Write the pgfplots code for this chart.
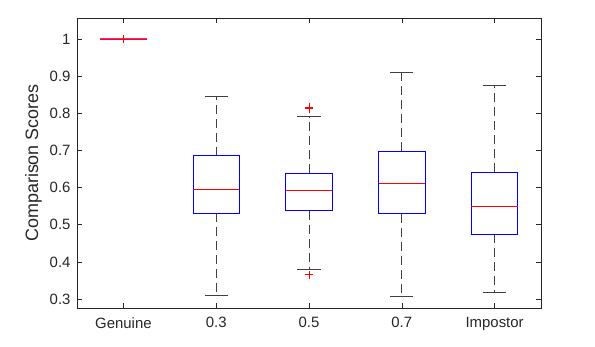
\documentclass[border=0pt]{standalone}
\usepackage{pgfplots}
\pgfplotsset{compat=1.18}
\usepgfplotslibrary{statistics}
\usepackage{fontspec}
\setmainfont{Liberation Sans}
\definecolor{axgray}{RGB}{38,38,38}
\definecolor{whisk}{RGB}{0,0,0}
\definecolor{mblue}{RGB}{0,0,255}
\definecolor{mred}{RGB}{255,0,0}

\pgfplotsset{
  mbox/.style={
    mred,
    boxplot/draw direction=y,
    boxplot/box extend=0.5,
    boxplot/whisker extend=0.25,
    boxplot/every median/.style={draw=mred, line width=0.8bp},
    boxplot/draw/box/.code={
      \draw[draw=mblue, line width=1bp]
        (boxplot box cs:\pgfplotsboxplotvalue{lower quartile},0) rectangle
        (boxplot box cs:\pgfplotsboxplotvalue{upper quartile},1);
    },
    boxplot/draw/lower whisker/.code={
      \draw[whisk!75, line width=0.8bp, dash pattern=on 9bp off 5bp]
        (boxplot box cs:\pgfplotsboxplotvalue{lower quartile},0.5) --
        (boxplot box cs:\pgfplotsboxplotvalue{lower whisker},0.5);
      \draw[whisk!75, line width=0.8bp]
        (boxplot whisker cs:\pgfplotsboxplotvalue{lower whisker},0) --
        (boxplot whisker cs:\pgfplotsboxplotvalue{lower whisker},1);
    },
    boxplot/draw/upper whisker/.code={
      \draw[whisk!75, line width=0.8bp, dash pattern=on 9bp off 5bp]
        (boxplot box cs:\pgfplotsboxplotvalue{upper quartile},0.5) --
        (boxplot box cs:\pgfplotsboxplotvalue{upper whisker},0.5);
      \draw[whisk!75, line width=0.8bp]
        (boxplot whisker cs:\pgfplotsboxplotvalue{upper whisker},0) --
        (boxplot whisker cs:\pgfplotsboxplotvalue{upper whisker},1);
    },
    mark=+, mark size=4bp, mark options={draw=mred, line width=0.8bp, solid},
  }
}

\begin{document}
\begin{tikzpicture}
\useasboundingbox (0,0) rectangle (595bp,347bp);
\begin{axis}[
  at={(77bp,39bp)}, anchor=south west,
  scale only axis, width=464bp, height=290bp,
  xmin=0.5, xmax=5.5, ymin=0.2758, ymax=1.0565,
  xtick={1,2,3,4,5},
  xticklabels={Genuine,0.3,0.5,0.7,Impostor},
  ytick={0.3,0.4,0.5,0.6,0.7,0.8,0.9,1},
  tick align=inside, major tick length=5bp,
  axis line style={axgray, line width=0.6bp},
  every tick/.style={axgray, line width=0.6bp},
  ticklabel style={font=\fontsize{15}{18}\selectfont, text=axgray},
  xticklabel style={yshift=-6bp},
  yticklabel style={xshift=-3bp},
  /pgf/number format/assume math mode=true,
  ylabel={Comparison Scores},
  ylabel shift=1bp,
  ylabel style={font=\fontsize{18}{21}\selectfont, text=axgray},
]
% Genuine: every score equals 1
\addplot[mbox, boxplot prepared={draw position=1,
  lower whisker=1, lower quartile=1, median=1,
  upper quartile=1, upper whisker=1}]
  coordinates {};
\addplot[mred!80!magenta, line width=1.6bp, opacity=0.7, forget plot]
  coordinates {(0.75,1) (1.25,1)};
\addplot[only marks, mark=+, mark size=4bp, mred, line width=0.8bp]
  coordinates {(1,1)};
\addplot[mbox, boxplot prepared={draw position=2,
  lower whisker=0.311, lower quartile=0.5315, median=0.596,
  upper quartile=0.685, upper whisker=0.8465}]
  coordinates {};
\addplot[mbox, boxplot prepared={draw position=3,
  lower whisker=0.381, lower quartile=0.537, median=0.592,
  upper quartile=0.639, upper whisker=0.791}]
  table[row sep=\\, y index=0] {0.817\\0.812\\0.365\\};
\addplot[mbox, boxplot prepared={draw position=4,
  lower whisker=0.308, lower quartile=0.530, median=0.611,
  upper quartile=0.698, upper whisker=0.911}]
  coordinates {};
\addplot[mbox, boxplot prepared={draw position=5,
  lower whisker=0.317, lower quartile=0.474, median=0.549,
  upper quartile=0.641, upper whisker=0.875}]
  coordinates {};
\end{axis}
\end{tikzpicture}
\end{document}
